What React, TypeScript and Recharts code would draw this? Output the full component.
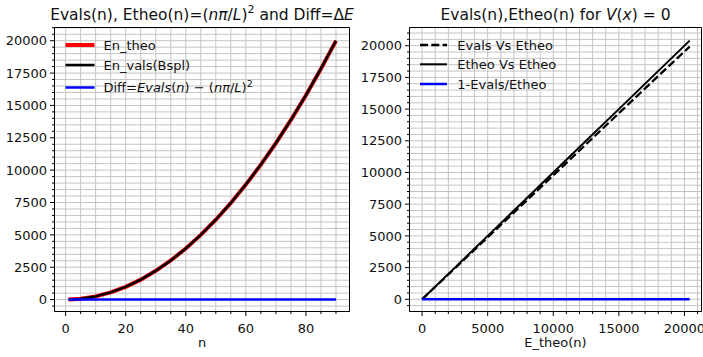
import React from 'react';
import { LineChart, Line, XAxis, YAxis, CartesianGrid, ReferenceArea, Legend } from 'recharts';

const FONT = '"DejaVu Sans", sans-serif';
const TXT = '#111';
const GRID = '#c4c4c4';

// ---- Left panel data: n, En_theo, En_vals(Bspl), Diff ----
const nVals = [1, 5, 10, 15, 20, 25, 30, 35, 40, 45, 50, 55, 60, 65, 70, 75, 80, 85, 90];
const enTheo = [2.5, 62, 247, 555, 987, 1542, 2221, 3023, 3948, 4997, 6169, 7464, 8883, 10425, 12090, 13879, 15791, 17827, 19986];
const enVals = [2.5, 62, 247, 555, 987, 1542, 2221, 3023, 3948, 4997, 6170, 7466, 8885, 10428, 12094, 13884, 15798, 17836, 19998];
const diffVals = [0, 0, 0, 0, 0, 0, 0, 0, 0, 0, 1, 2, 2, 3, 4, 5, 7, 9, 12];

// ---- Right panel data: E_theo (x), Evals, Etheo, 1-Evals/Etheo ----
const etheoR = [2.5, 2500, 5000, 7500, 10000, 12500, 15000, 17500, 20400];
const evalsR = [2.5, 2445, 4890, 7335, 9780, 12225, 14670, 17115, 19930];
const ratioR = [0, 0.022, 0.022, 0.022, 0.022, 0.022, 0.022, 0.022, 0.023];

// ---- Tick labels ----
const leftXMajor = [0, 20, 40, 60, 80];
const leftYMajor = [0, 2500, 5000, 7500, 10000, 12500, 15000, 17500, 20000];
const rightXMajor = [0, 5000, 10000, 15000, 20000];
const rightYMajor = [0, 2500, 5000, 7500, 10000, 12500, 15000, 17500, 20000];

const range = (a: number, b: number, s: number) => {
  const out: number[] = [];
  for (let v = a; v <= b + 1e-9; v += s) out.push(v);
  return out;
};
const leftXTicks = range(0, 90, 5);
const leftYTicks = range(-500, 21000, 500);
const rightXTicks = range(0, 21000, 1000);
const rightYTicks = range(-500, 21000, 500);

const leftXDomain: [number, number] = [-3.7, 94.5];
const leftYDomain: [number, number] = [-920, 21020];
const rightXDomain: [number, number] = [-960, 21300];
const rightYDomain: [number, number] = [-962, 21435];

const leftData = nVals.map((n, i) => ({ n, theo: enTheo[i], vals: enVals[i], diff: diffVals[i] }));
const rightData = etheoR.map((x, i) => ({ x, evals: evalsR[i], etheo: etheoR[i], ratio: ratioR[i] }));

const makeXTick = (major: number[]) => (props: any) => {
  const { x, y, payload } = props;
  const v = payload.value;
  const isMajor = major.includes(v);
  return (
    <g>
      <line x1={x} x2={x} y1={y} y2={y + (isMajor ? 4.5 : 2.5)} stroke="#000" strokeWidth={1} />
      {isMajor && (
        <text x={x} y={y + 21.5} textAnchor="middle" fontFamily={FONT} fontSize={13} fill={TXT}>
          {v}
        </text>
      )}
    </g>
  );
};

const makeYTick = (major: number[]) => (props: any) => {
  const { x, y, payload } = props;
  const v = payload.value;
  const isMajor = major.includes(v);
  return (
    <g>
      <line x1={x} x2={x - (isMajor ? 4.5 : 2.5)} y1={y} y2={y} stroke="#000" strokeWidth={1} />
      {isMajor && (
        <text x={x - 7.5} y={y} dy="0.36em" textAnchor="end" fontFamily={FONT} fontSize={13} fill={TXT}>
          {v}
        </text>
      )}
    </g>
  );
};

const LeftLegend = () => (
  <svg width={360} height={357} style={{ position: 'absolute', left: 0, top: 0, pointerEvents: 'none' }}>
    <line x1={65.5} x2={94.5} y1={45} y2={45} stroke="#ff0000" strokeWidth={4} />
    <text x={103.5} y={49.7} fontFamily={FONT} fontSize={13} fill={TXT}>En_theo</text>
    <line x1={65.5} x2={94.5} y1={65} y2={65} stroke="#000" strokeWidth={2.5} />
    <text x={103.5} y={69.7} fontFamily={FONT} fontSize={13} fill={TXT}>En_vals(Bspl)</text>
    <line x1={65.5} x2={94.5} y1={87.5} y2={87.5} stroke="#0000ff" strokeWidth={2.5} />
    <text x={103.5} y={92.2} fontFamily={FONT} fontSize={13} fill={TXT} style={{ whiteSpace: 'pre' }}>
      <tspan>Diff=</tspan>
      <tspan fontStyle="italic">Evals</tspan>
      <tspan>(</tspan>
      <tspan fontStyle="italic">n</tspan>
      <tspan>) − (</tspan>
      <tspan fontStyle="italic">nπ</tspan>
      <tspan>/</tspan>
      <tspan fontStyle="italic">L</tspan>
      <tspan>)</tspan>
      <tspan dy={-5.5} fontSize={9.5}>2</tspan>
    </text>
  </svg>
);

const RightLegend = () => (
  <svg width={343} height={357} style={{ position: 'absolute', left: 0, top: 0, pointerEvents: 'none' }}>
    <line x1={60} x2={87} y1={45} y2={45} stroke="#000" strokeWidth={2.5} strokeDasharray="8 3.3" />
    <text x={97.3} y={49.7} fontFamily={FONT} fontSize={13} fill={TXT}>Evals Vs Etheo</text>
    <line x1={60} x2={87} y1={64.3} y2={64.3} stroke="#000" strokeWidth={2} />
    <text x={97.3} y={69} fontFamily={FONT} fontSize={13} fill={TXT}>Etheo Vs Etheo</text>
    <line x1={60} x2={87} y1={84} y2={84} stroke="#0000ff" strokeWidth={2.5} />
    <text x={97.3} y={88.7} fontFamily={FONT} fontSize={13} fill={TXT}>1-Evals/Etheo</text>
  </svg>
);

const legendWrap = { left: 0, top: 0, width: 'auto', height: 'auto', pointerEvents: 'none' as const };

export default function App() {
  return (
    <div style={{ position: 'absolute', left: 0, top: 0, width: 703, height: 357, background: '#fff', overflow: 'hidden' }}>
      <div style={{ position: 'absolute', left: 0, top: 0 }}>
        <LineChart width={360} height={357} data={leftData} margin={{ top: 27.5, right: 10.5, bottom: 0, left: 0 }}>
          <CartesianGrid stroke={GRID} strokeWidth={1} />
          <XAxis
            dataKey="n"
            type="number"
            domain={leftXDomain}
            allowDataOverflow
            ticks={leftXTicks}
            interval={0}
            tickSize={0}
            tickMargin={0}
            tickLine={false}
            axisLine={false}
            height={45.5}
            tick={makeXTick(leftXMajor)}
            label={{ value: 'n', position: 'insideBottom', offset: 10, fontFamily: FONT, fontSize: 13, fill: TXT }}
          />
          <YAxis
            type="number"
            domain={leftYDomain}
            allowDataOverflow
            ticks={leftYTicks}
            interval={0}
            tickSize={0}
            tickMargin={0}
            tickLine={false}
            axisLine={false}
            width={54.5}
            tick={makeYTick(leftYMajor)}
          />
          <Line type="linear" dataKey="theo" name="En_theo" stroke="#ff0000" strokeWidth={4} dot={false} activeDot={false} isAnimationActive={false} />
          <Line type="linear" dataKey="vals" name="En_vals(Bspl)" stroke="#000" strokeWidth={2.5} dot={false} activeDot={false} isAnimationActive={false} />
          <Line type="linear" dataKey="diff" name="Diff" stroke="#0000ff" strokeWidth={2.5} dot={false} activeDot={false} isAnimationActive={false} />
          <ReferenceArea x1={leftXDomain[0]} x2={leftXDomain[1]} y1={leftYDomain[0]} y2={leftYDomain[1]} fill="none" fillOpacity={0} stroke="#000" strokeWidth={1} />
          <Legend layout="vertical" align="center" verticalAlign="middle" wrapperStyle={legendWrap} content={() => <LeftLegend />} />
        </LineChart>
      </div>
      <div style={{ position: 'absolute', left: 360, top: 0 }}>
        <LineChart width={343} height={357} data={rightData} margin={{ top: 27.5, right: 1.5, bottom: 0, left: 0 }}>
          <CartesianGrid stroke={GRID} strokeWidth={1} />
          <XAxis
            dataKey="x"
            type="number"
            domain={rightXDomain}
            allowDataOverflow
            ticks={rightXTicks}
            interval={0}
            tickSize={0}
            tickMargin={0}
            tickLine={false}
            axisLine={false}
            height={45.5}
            tick={makeXTick(rightXMajor)}
            label={{ value: 'E_theo(n)', position: 'insideBottom', offset: 10, fontFamily: FONT, fontSize: 13, fill: TXT }}
          />
          <YAxis
            type="number"
            domain={rightYDomain}
            allowDataOverflow
            ticks={rightYTicks}
            interval={0}
            tickSize={0}
            tickMargin={0}
            tickLine={false}
            axisLine={false}
            width={49.5}
            tick={makeYTick(rightYMajor)}
          />
          <Line type="linear" dataKey="evals" name="Evals Vs Etheo" stroke="#000" strokeWidth={2.3} strokeDasharray="8 3.3" dot={false} activeDot={false} isAnimationActive={false} />
          <Line type="linear" dataKey="etheo" name="Etheo Vs Etheo" stroke="#000" strokeWidth={2} dot={false} activeDot={false} isAnimationActive={false} />
          <Line type="linear" dataKey="ratio" name="1-Evals/Etheo" stroke="#0000ff" strokeWidth={2.5} dot={false} activeDot={false} isAnimationActive={false} />
          <ReferenceArea x1={rightXDomain[0]} x2={rightXDomain[1]} y1={rightYDomain[0]} y2={rightYDomain[1]} fill="none" fillOpacity={0} stroke="#000" strokeWidth={1} />
          <Legend layout="vertical" align="center" verticalAlign="middle" wrapperStyle={legendWrap} content={() => <RightLegend />} />
        </LineChart>
      </div>
      <svg width={703} height={357} style={{ position: 'absolute', left: 0, top: 0, pointerEvents: 'none' }}>
        <text x={202} y={19.5} textAnchor="middle" fontFamily={FONT} fontSize={15.5} fill={TXT} style={{ whiteSpace: 'pre' }}>
          <tspan>Evals(n), Etheo(n)=(</tspan>
          <tspan fontStyle="italic">nπ</tspan>
          <tspan>/</tspan>
          <tspan fontStyle="italic">L</tspan>
          <tspan>)</tspan>
          <tspan dy={-6.5} fontSize={11}>2</tspan>
          <tspan dy={6.5}> and Diff=Δ</tspan>
          <tspan fontStyle="italic">E</tspan>
        </text>
        <text x={555.5} y={19.5} textAnchor="middle" fontFamily={FONT} fontSize={15.5} fill={TXT} style={{ whiteSpace: 'pre' }}>
          <tspan>Evals(n),Etheo(n) for </tspan>
          <tspan fontStyle="italic">V</tspan>
          <tspan>(</tspan>
          <tspan fontStyle="italic">x</tspan>
          <tspan>) = 0</tspan>
        </text>
      </svg>
    </div>
  );
}
